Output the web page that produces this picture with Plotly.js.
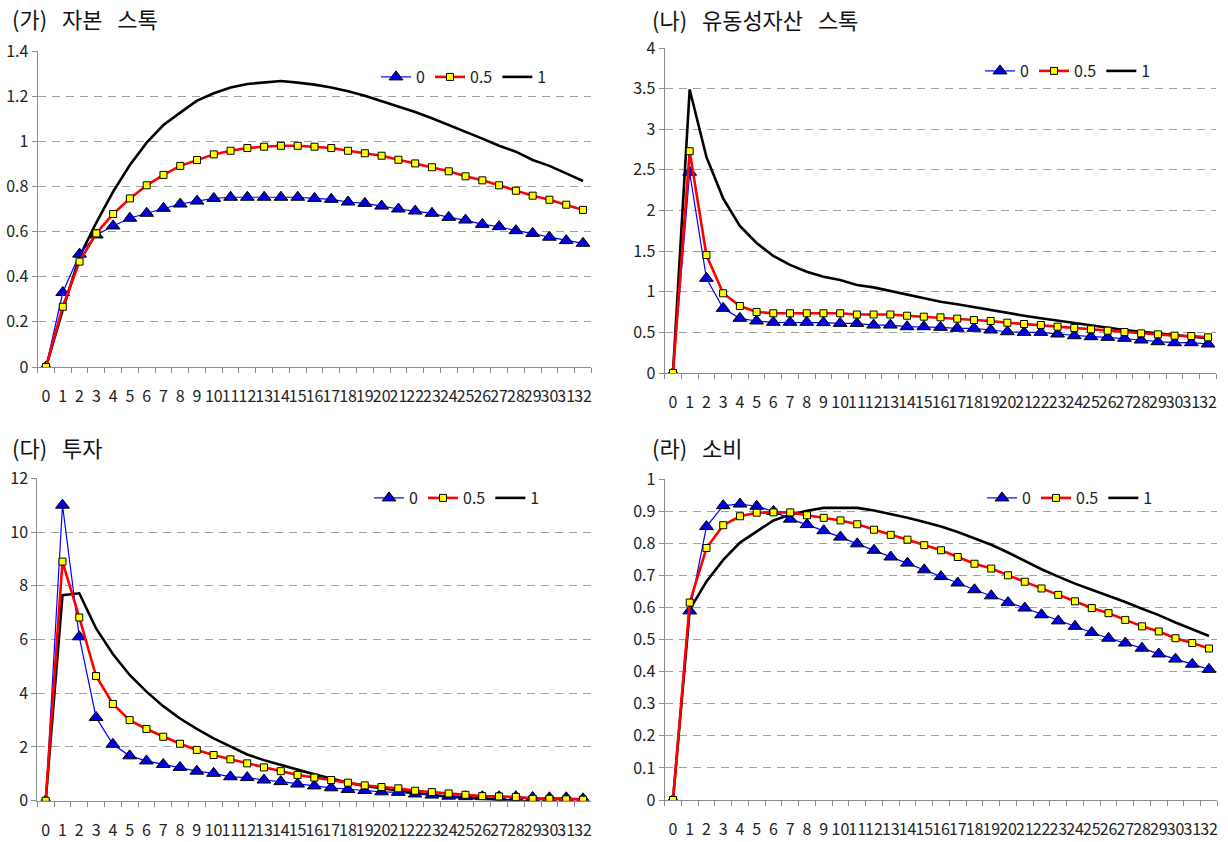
<!DOCTYPE html>
<html>
<head>
<meta charset="utf-8">
<script src="https://cdn.plot.ly/plotly-3.0.1.min.js"></script>
<style>
  html, body { margin: 0; padding: 0; background: #ffffff; }
  #chart { width: 1228px; height: 842px; }
</style>
</head>
<body>
<div id="chart"></div>
<script>
// ---------------- data ----------------
const periods = Array.from({length: 33}, (_, i) => String(i));
const seriesNames = ['0', '0.5', '1'];

const panelTitles = ['(가)\u00a0\u00a0\u00a0자본\u00a0\u00a0\u00a0스톡', '(나)\u00a0\u00a0\u00a0유동성자산\u00a0\u00a0\u00a0스톡', '(다)\u00a0\u00a0\u00a0투자', '(라)\u00a0\u00a0\u00a0소비'];

// (가) 자본 스톡
const capital0  = [0,0.33,0.50,0.585,0.625,0.659,0.681,0.703,0.722,0.735,0.747,0.752,0.752,0.752,0.752,0.752,0.747,0.743,0.731,0.725,0.713,0.70,0.691,0.681,0.663,0.651,0.632,0.622,0.604,0.592,0.575,0.560,0.548];
const capital05 = [0,0.267,0.467,0.592,0.678,0.747,0.805,0.851,0.891,0.917,0.942,0.958,0.970,0.976,0.980,0.980,0.976,0.970,0.958,0.947,0.936,0.918,0.902,0.885,0.867,0.845,0.827,0.805,0.781,0.759,0.741,0.719,0.696];
const capital1  = [0,0.253,0.489,0.64,0.777,0.895,0.994,1.072,1.127,1.180,1.213,1.238,1.254,1.260,1.267,1.260,1.251,1.238,1.222,1.202,1.179,1.153,1.130,1.102,1.072,1.044,1.012,0.980,0.954,0.917,0.891,0.858,0.824];

// (나) 유동성자산 스톡
const liquid0  = [0,2.47,1.165,0.796,0.673,0.64,0.624,0.624,0.624,0.62,0.611,0.61,0.59,0.59,0.57,0.57,0.562,0.55,0.55,0.529,0.508,0.50,0.50,0.48,0.459,0.447,0.439,0.427,0.406,0.385,0.373,0.373,0.357];
const liquid05 = [0,2.73,1.452,0.981,0.825,0.751,0.735,0.735,0.735,0.735,0.735,0.72,0.72,0.72,0.705,0.693,0.685,0.669,0.652,0.64,0.619,0.603,0.591,0.57,0.554,0.537,0.521,0.505,0.488,0.476,0.459,0.455,0.439];
const liquid1  = [0,3.49,2.66,2.15,1.81,1.60,1.44,1.33,1.247,1.185,1.145,1.083,1.054,1.009,0.968,0.919,0.878,0.845,0.808,0.775,0.742,0.705,0.673,0.644,0.611,0.591,0.558,0.529,0.508,0.488,0.468,0.447,0.427];

// (다) 투자
const invest0  = [0,11.0,6.10,3.10,2.10,1.67,1.48,1.35,1.24,1.10,1.02,0.89,0.86,0.77,0.71,0.62,0.55,0.48,0.42,0.38,0.33,0.31,0.25,0.21,0.17,0.15,0.15,0.15,0.15,0.12,0.11,0.11,0.07];
const invest05 = [0,8.9,6.82,4.64,3.60,3.00,2.67,2.38,2.12,1.89,1.70,1.54,1.39,1.24,1.10,0.96,0.86,0.77,0.67,0.57,0.51,0.46,0.37,0.32,0.27,0.22,0.17,0.16,0.14,0.07,0.07,0.05,0.04];
const invest1  = [0,7.65,7.72,6.41,5.46,4.68,4.06,3.52,3.06,2.67,2.32,2.01,1.72,1.51,1.33,1.14,0.98,0.83,0.67,0.55,0.46,0.37,0.29,0.21,0.15,0.11,0.06,0.02,-0.01,-0.04,-0.06,-0.09,-0.1];

// (라) 소비
const consume0  = [0,0.589,0.852,0.917,0.922,0.915,0.899,0.875,0.858,0.839,0.819,0.798,0.778,0.757,0.738,0.717,0.696,0.676,0.655,0.636,0.615,0.598,0.577,0.558,0.541,0.522,0.504,0.489,0.473,0.455,0.439,0.423,0.407];
const consume05 = [0,0.615,0.785,0.856,0.884,0.895,0.896,0.896,0.887,0.879,0.871,0.859,0.842,0.826,0.811,0.794,0.778,0.757,0.736,0.721,0.70,0.68,0.659,0.639,0.619,0.598,0.582,0.561,0.541,0.525,0.504,0.489,0.472];
const consume1  = [0,0.593,0.681,0.748,0.802,0.837,0.871,0.889,0.901,0.910,0.910,0.910,0.902,0.891,0.879,0.866,0.852,0.835,0.816,0.795,0.771,0.745,0.719,0.696,0.674,0.655,0.637,0.617,0.596,0.576,0.553,0.532,0.511];

const yMax  = [1.4, 4, 12, 1];
const yStep = [0.2, 0.5, 2, 0.1];

// ---------------- layout helpers ----------------
const W = 1228, H = 842;
const fx = p => p / W;
const fy = p => 1 - p / H;

const panels = [
  {data: [capital0, capital05, capital1], x: [37.6, 591.4], y: [367, 51],    title: [10, 18],   legend: [376, 77]},
  {data: [liquid0, liquid05, liquid1],    x: [664.6, 1216.4], y: [373, 48],  title: [650, 19],  legend: [980, 71]},
  {data: [invest0, invest05, invest1],    x: [37.3, 591.4], y: [800.7, 478.3], title: [10, 447], legend: [369, 498]},
  {data: [consume0, consume05, consume1], x: [664.6, 1217.4], y: [800, 479], title: [650, 447], legend: [982, 498]}
];

const fontFam = '"Noto Sans CJK KR", "Noto Sans", sans-serif';
const traces = [];
const layout = {
  width: W, height: H,
  margin: {l: 0, r: 0, t: 0, b: 0},
  paper_bgcolor: '#ffffff',
  plot_bgcolor: '#ffffff',
  font: {family: fontFam, size: 15, color: '#222222'},
  annotations: [],
  showlegend: true
};

panels.forEach((p, i) => {
  const n = i === 0 ? '' : String(i + 1);
  const xa = 'x' + n, ya = 'y' + n;
  const lg = 'legend' + n;
  const [s0, s05, s1] = p.data;

  traces.push({
    x: periods, y: s1, xaxis: xa, yaxis: ya, name: seriesNames[2], legend: lg, legendrank: 3,
    mode: 'lines', line: {color: '#000000', width: 2.6}
  });
  traces.push({
    x: periods, y: s0, xaxis: xa, yaxis: ya, name: seriesNames[0], legend: lg, legendrank: 1,
    mode: 'lines+markers', line: {color: '#0000FF', width: 1.2},
    marker: {symbol: 'triangle-up', size: 12, color: '#0000E0', line: {color: '#000000', width: 1}}
  });
  traces.push({
    x: periods, y: s05, xaxis: xa, yaxis: ya, name: seriesNames[1], legend: lg, legendrank: 2,
    mode: 'lines+markers', line: {color: '#FF0000', width: 2.6},
    marker: {symbol: 'square', size: 7, color: '#FFFF00', line: {color: '#000000', width: 1}}
  });

  layout['xaxis' + n] = {
    domain: [fx(p.x[0]), fx(p.x[1])],
    anchor: ya,
    type: 'category',
    range: [-0.5, 32.5],
    tickmode: 'linear', tick0: 0, dtick: 1,
    tickson: 'boundaries',
    ticks: 'outside', ticklen: 5, tickcolor: '#8c8c8c', tickwidth: 1,
    tickangle: 0,
    ticklabelstandoff: 15,
    showline: true, linecolor: '#8c8c8c', linewidth: 1,
    showgrid: false, zeroline: false,
    tickfont: {size: 16, color: '#222222', family: fontFam},
    fixedrange: true
  };
  layout['yaxis' + n] = {
    domain: [fy(p.y[0]), fy(p.y[1])],
    anchor: xa,
    range: [0, yMax[i]],
    tickmode: 'linear', tick0: 0, dtick: yStep[i],
    ticks: 'outside', ticklen: 5, tickcolor: '#8c8c8c', tickwidth: 1,
    showline: true, linecolor: '#8c8c8c', linewidth: 1,
    showgrid: true, gridcolor: '#a0a0a0', gridwidth: 1, griddash: '8px,6px',
    zeroline: false,
    tickfont: {size: 16, color: '#222222', family: fontFam},
    fixedrange: true
  };
  layout[lg] = {
    x: fx(p.legend[0]), y: fy(p.legend[1]),
    xanchor: 'left', yanchor: 'middle',
    orientation: 'h',
    bgcolor: 'rgba(0,0,0,0)', borderwidth: 0,
    font: {size: 16, color: '#222222', family: fontFam},
    traceorder: 'normal',
    itemwidth: 30
  };
  layout.annotations.push({
    xref: 'paper', yref: 'paper',
    x: fx(p.title[0]), y: fy(p.title[1]),
    xanchor: 'left', yanchor: 'middle',
    showarrow: false,
    text: panelTitles[i],
    font: {size: 22, color: '#111111', family: fontFam}
  });
});

Plotly.newPlot('chart', traces, layout, {displayModeBar: false, staticPlot: true});
</script>
</body>
</html>
